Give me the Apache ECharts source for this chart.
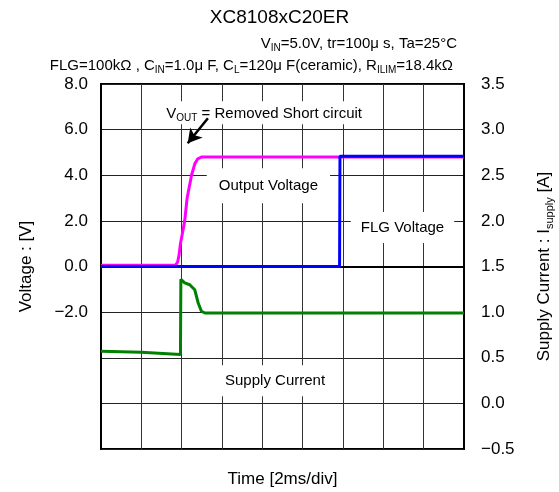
<!DOCTYPE html>
<html>
<head>
<meta charset="utf-8">
<script src="https://cdn.jsdelivr.net/npm/echarts@6/dist/echarts.min.js"></script>
<style>html,body{margin:0;padding:0;background:#fff}#c{width:559px;height:492px}</style>
</head>
<body>
<div id="c"></div>
<script>
// Output voltage [ms, V]
const voutData = [[0,0.06],[3.7,0.06],[3.8,0.2],[3.87,0.5],[3.94,1.0],[4.15,2.0],[4.27,3.0],[4.49,4.0],[4.65,4.5],[4.8,4.72],[4.98,4.8],[18,4.8]];
// FLG voltage [ms, V]
const flgData = [[0,0],[11.83,0],[11.85,4.83],[18,4.83]];
// Supply current [ms, A]
const isupplyData = [[0,0.57],[2,0.56],[3.94,0.535],[3.96,1.36],[4.15,1.32],[4.4,1.30],[4.65,1.245],[4.82,1.10],[4.98,1.01],[5.15,0.99],[18,0.99]];
// annotation labels [ms, V]
const annoLabels = [
  {text:'{a|V}{s|OUT}{a| = Removed Short circuit}', pos:[8.09,6.74], pad:[3,6,1,6]},
  {text:'{a|Output Voltage}', pos:[8.3,3.54], pad:[8,12]},
  {text:'{a|FLG Voltage}', pos:[14.95,1.71], pad:[6,10]},
  {text:'{a|Supply Current}', pos:[8.63,-5.01], pad:[6,10]}
];
const arrowFrom = [5.3,6.5];
const arrowTo = [4.3,5.4];
const titleText = 'XC8108xC20ER';

const FONT = '"Liberation Sans", Arial, "Noto Sans CJK JP", sans-serif';
const fmtMinus = v => (v < 0 ? '\u2212' + Math.abs(v).toFixed(1) : v.toFixed(1));

const chart = echarts.init(document.getElementById('c'), null, {renderer:'canvas'});
const richSub = (size) => ({
  a:{fontSize:size, fontFamily:FONT, color:'#000', lineHeight:size+4},
  s:{fontSize:Math.round(size*0.65), fontFamily:FONT, color:'#000', verticalAlign:'bottom', lineHeight:size+4}
});

chart.setOption({
  animation:false,
  backgroundColor:'#fff',
  grid:{left:101, right:95, top:84, bottom:43, show:true, borderColor:'#000', borderWidth:2,
        backgroundColor:'transparent', containLabel:false, outerBoundsMode:'none'},
  xAxis:{
    type:'value', min:0, max:18, interval:2,
    name:'Time [2ms/div]', nameLocation:'middle', nameGap:22,
    nameTextStyle:{fontSize:17, fontFamily:FONT, color:'#000'},
    axisLabel:{show:false}, axisTick:{show:false},
    axisLine:{show:true, lineStyle:{color:'#000', width:2}},
    splitLine:{show:true, lineStyle:{color:'#333', width:1}}
  },
  yAxis:[{
    type:'value', min:-8, max:8, interval:2,
    name:'Voltage : [V]', nameLocation:'middle', nameGap:66,
    nameTextStyle:{fontSize:17, fontFamily:FONT, color:'#000'},
    axisLabel:{fontSize:17, fontFamily:FONT, color:'#000', margin:13,
      formatter: v => (v < -2 ? '' : fmtMinus(v))},
    axisTick:{show:false},
    axisLine:{show:true, lineStyle:{color:'#000', width:2}},
    splitLine:{show:true, lineStyle:{color:'#222', width:1}}
  },{
    type:'value', min:-0.5, max:3.5, interval:0.5, position:'right',
    name:'{a|Supply Current : I}{s|supply}{a| [A]}', nameLocation:'middle', nameGap:70,
    nameTextStyle:{fontSize:17, fontFamily:FONT, color:'#000', rich:richSub(17)},
    axisLabel:{fontSize:17, fontFamily:FONT, color:'#000', margin:17, formatter: fmtMinus},
    axisTick:{show:false},
    axisLine:{show:true, lineStyle:{color:'#000', width:2}},
    splitLine:{show:false}
  }],
  graphic:[
    {type:'text', left:'center', top:8, style:{text:titleText, fontSize:19, fontFamily:FONT, fill:'#000'}},
    {type:'text', right:102, top:36, style:{text:'{a|V}{s|IN}{a|=5.0V, tr=100\u03bc s, Ta=25\u00b0C}', rich:richSub(15)}},
    {type:'text', right:106, top:58, style:{text:'{a|FLG=100k\u03a9 , C}{s|IN}{a|=1.0\u03bc F, C}{s|L}{a|=120\u03bc F(ceramic), R}{s|ILIM}{a|=18.4k\u03a9}', rich:richSub(15)}}
  ],
  series:[
    {type:'line', yAxisIndex:0, data:voutData, showSymbol:false, symbol:'none',
     lineStyle:{color:'#FF00FF', width:3}, z:3,
     markPoint:{z:4, silent:true, symbol:'circle', symbolSize:1, itemStyle:{color:'rgba(0,0,0,0)'},
       data: annoLabels.map(a => ({coord:a.pos, label:{show:true, position:'inside', formatter:a.text,
         backgroundColor:'#fff', padding:a.pad, rich:richSub(15)}}))}
    },
    {type:'line', yAxisIndex:0, data:flgData, showSymbol:false, symbol:'none',
     lineStyle:{color:'#0000FF', width:3}, z:4},
    {type:'line', yAxisIndex:1, data:isupplyData, showSymbol:false, symbol:'none',
     lineStyle:{color:'#008000', width:3}, z:3},
    {type:'line', yAxisIndex:0, data:[], z:6,
     markLine:{z:20, silent:true, symbol:['none','arrow'], symbolSize:[12,14],
       lineStyle:{color:'#000', width:2.5, type:'solid'}, label:{show:false},
       data:[[{coord:arrowFrom},{coord:arrowTo}]]}}
  ]
});
</script>
</body>
</html>
